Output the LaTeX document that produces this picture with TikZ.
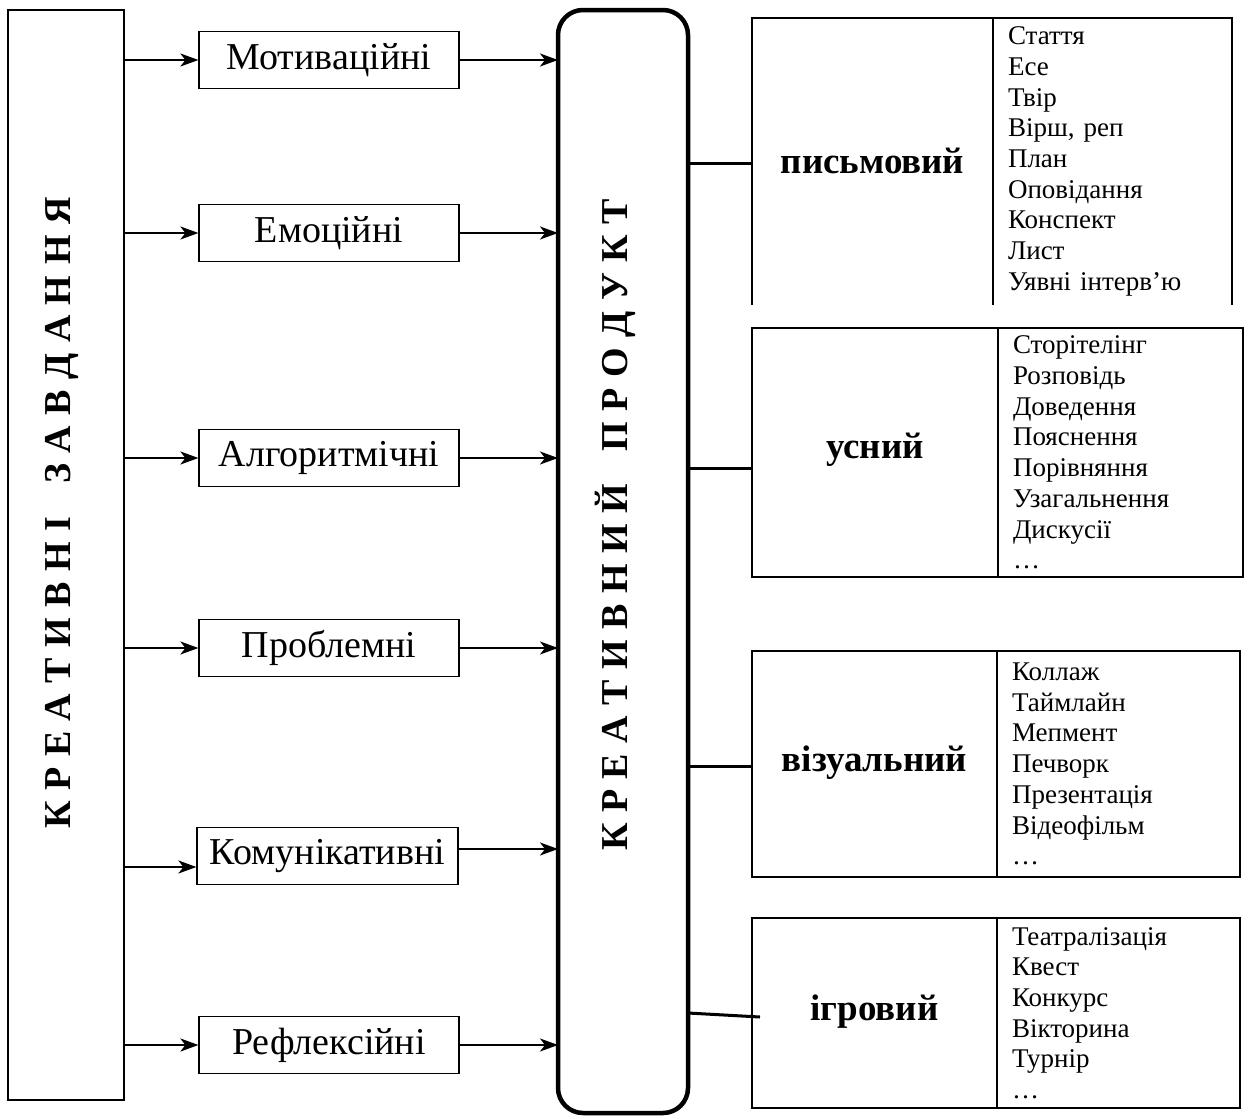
\documentclass[tikz,border=0pt]{standalone}
\usepackage{fontspec}
\setmainfont{Liberation Serif}
\usetikzlibrary{arrows.meta, positioning}
\newcommand{\widespace}{\spaceskip=10.5pt\relax}

\begin{document}
\begin{tikzpicture}[
    x=1pt, y=-1pt,
    frame/.style={rectangle, draw, line width=1.2pt, outer sep=0pt, inner sep=0pt, anchor=north west},
    task/.style={rectangle, draw, line width=1.2pt, minimum width=260pt, minimum height=57pt, inner sep=0pt, font=\fontsize{38}{42}\selectfont},
    vtitle/.style={rotate=90, anchor=base, inner sep=0pt, font={\fontsize{38}{44}\selectfont\bfseries\widespace}},
    kind/.style={rectangle, draw, line width=2pt, outer sep=0pt, minimum width=245pt, anchor=north west, font=\fontsize{37}{42}\selectfont\bfseries},
    items/.style={rectangle, draw, line width=2pt, outer sep=0pt, minimum width=243pt, text width=213pt, inner xsep=15pt, align=left, font=\fontsize{27}{30.7}\selectfont},
    arrow/.style={-{Stealth[length=18pt, width=13pt, inset=5pt]}, line width=2pt},
    stub/.style={line width=3pt}
]
    \useasboundingbox (0,0) rectangle (1248,1119);

    % left and middle columns
    \node[frame, minimum width=116pt, minimum height=1090pt] (tasks) at (8,10) {};
    \node[vtitle] (taskstitle) at (70,513) {К Р Е А Т И В Н І\hspace{22pt} З А В Д А Н Н Я};
    \node[frame, line width=4.5pt, rounded corners=25pt, minimum width=130pt, minimum height=1103pt] (product) at (558,10) {};
    \node[vtitle] (producttitle) at (627,525) {К Р Е А Т И В Н И Й\hspace{22pt} П Р О Д У К Т};

    \node[task] (motiv) at (329,60) {Мотиваційні};
    \node[task] (emot) at (329,233) {Емоційні};
    \node[task] (algo) at (329,458) {Алгоритмічні};
    \node[task] (probl) at (329,648) {Проблемні};
    \node[task, minimum width=261pt] (comm) at (327.5,856) {Комунікативні};
    \node[task] (refl) at (329,1045) {Рефлексійні};

    \foreach \t in {motiv, emot, algo, probl, refl} {
        \draw[arrow] (tasks.east |- \t) -- (\t);
        \draw[arrow] (\t) -- (product.west |- \t);
    }
    \coordinate (commin) at (0,867);
    \coordinate (commout) at (0,849);
    \draw[arrow] (tasks.east |- commin) -- (comm.west |- commin);
    \draw[arrow] (comm.east |- commout) -- (product.west |- commout);

    % kinds of product
    \node[kind, draw=none, minimum width=241pt, minimum height=287pt] (kind1) at (752,18) {\raisebox{1pt}{письмовий}};
    \node[items, draw=none, minimum width=239pt, text width=209pt, minimum height=287pt, right=0pt of kind1] (items1) {Стаття\\Есе\\Твір\\Вірш, реп\\План\\Оповідання\\Конспект\\Лист\\Уявні інтерв’ю};
    \draw[line width=2pt] (kind1.south west) |- (items1.north east) -- (items1.south east);
    \draw[line width=2pt] (kind1.north east) -- (kind1.south east);

    \node[kind, minimum width=246pt, minimum height=249pt] (kind2) at (752,328) {\raisebox{13pt}{усний}};
    \node[items, minimum width=245pt, text width=215pt, minimum height=249pt, right=0pt of kind2] (items2) {Сторітелінг\\Розповідь\\Доведення\\Пояснення\\Порівняння\\Узагальнення\\Дискусії\\…};

    \node[kind, minimum height=226pt] (kind3) at (752,651) {\raisebox{11pt}{візуальний}};
    \node[items, minimum height=226pt, right=0pt of kind3] (items3) {Коллаж\\Таймлайн\\Мепмент\\Печворк\\Презентація\\Відеофільм\\…};

    \node[kind, minimum height=190pt] (kind4) at (752,918) {\raisebox{11pt}{ігровий}};
    \node[items, minimum height=190pt, right=0pt of kind4] (items4) {Театралізація\\Квест\\Конкурс\\Вікторина\\Турнір\\…};

    \coordinate (s1) at (0,163);
    \coordinate (s2) at (0,468);
    \coordinate (s3) at (0,766);
    \coordinate (s4) at (0,1013);
    \coordinate (s4end) at (760,1017);
    \draw[stub] (product.east |- s1) -- (kind1.west |- s1);
    \draw[stub] (product.east |- s2) -- (kind2.west |- s2);
    \draw[stub] (product.east |- s3) -- (kind3.west |- s3);
    \draw[stub] (product.east |- s4) -- (s4end);
\end{tikzpicture}
\end{document}
